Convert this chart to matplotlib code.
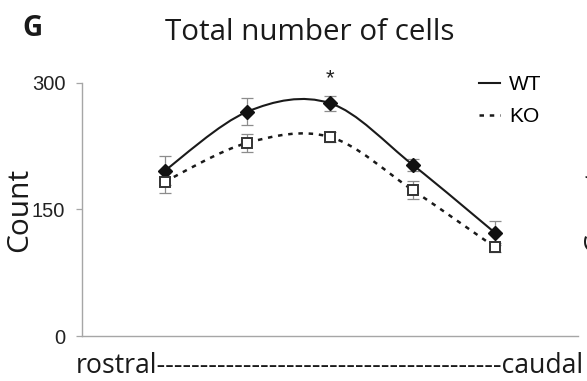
import matplotlib
matplotlib.use("Agg")
import matplotlib.pyplot as plt
from matplotlib.path import Path
from matplotlib.patches import PathPatch
from matplotlib.lines import Line2D

# Section positions along the rostro-caudal axis
positions = [1, 2, 3, 4, 5]

# Mean cell counts and error bars per genotype
wt_mean = [196, 266, 276, 203, 122]
wt_err = [17, 16, 9, 7, 14]
ko_mean = [183, 229, 236, 173, 105]
ko_err = [14, 11, 6, 11, 5]

y_ticks = [0, 150, 300]
title = "Total number of cells"
panel = "G"
x_label = "rostral" + "-" * 40 + "caudal"
y_label = "Count"
significant = [3]

HUMANIST = ["Open Sans", "DejaVu Sans"]
ARIAL = ["Liberation Sans", "DejaVu Sans"]


def smooth_path(xs, ys):
    """Cubic Bezier path through the points (Excel-style smoothed line)."""
    n = len(xs)
    verts = [(xs[0], ys[0])]
    codes = [Path.MOVETO]
    for i in range(n - 1):
        x0, y0 = xs[max(i - 1, 0)], ys[max(i - 1, 0)]
        x1, y1 = xs[i], ys[i]
        x2, y2 = xs[i + 1], ys[i + 1]
        x3, y3 = xs[min(i + 2, n - 1)], ys[min(i + 2, n - 1)]
        c1 = (x1 + (x2 - x0) / 6.0, y1 + (y2 - y0) / 6.0)
        c2 = (x2 - (x3 - x1) / 6.0, y2 - (y3 - y1) / 6.0)
        verts += [c1, c2, (x2, y2)]
        codes += [Path.CURVE4] * 3
    return Path(verts, codes)


fig = plt.figure(figsize=(5.87, 3.81), dpi=100)
ax = fig.add_axes([0.1397, 0.1181, 0.845, 0.6641])

ax.set_xlim(0, 6)
ax.set_ylim(0, 300)

# Lines
wt_style = dict(color="#1a1a1a", lw=1.5)
ko_style = dict(color="#1a1a1a", lw=1.8, linestyle=(0, (1.8, 2.3)))
ax.add_patch(PathPatch(smooth_path(positions, wt_mean), fill=False,
                       capstyle="round", zorder=2, **wt_style))
ax.add_patch(PathPatch(smooth_path(positions, ko_mean), fill=False,
                       capstyle="butt", zorder=2, **ko_style))

# Error bars
ax.errorbar(positions, wt_mean, yerr=wt_err, fmt="none", ecolor="#8c8c8c",
            elinewidth=0.9, capsize=4, capthick=0.9, zorder=1)
ax.errorbar(positions, ko_mean, yerr=ko_err, fmt="none", ecolor="#8c8c8c",
            elinewidth=0.9, capsize=4, capthick=0.9, zorder=1)

# Markers
ax.plot(positions, wt_mean, linestyle="none", marker="D", markersize=7.5,
        color="#111111", zorder=4)
ax.plot(positions, ko_mean, linestyle="none", marker="s", markersize=6.8,
        markerfacecolor="white", markeredgecolor="#333333",
        markeredgewidth=1.4, zorder=4)

# Significance marks
for p in significant:
    i = positions.index(p)
    ax.text(p, wt_mean[i] + 17, "*", ha="center", va="bottom",
            fontsize=16, family=ARIAL, color="#222222")

# Axes styling
for side in ("top", "right"):
    ax.spines[side].set_visible(False)
for side in ("left", "bottom"):
    ax.spines[side].set_color("#a6a6a6")
    ax.spines[side].set_linewidth(1.0)
ax.set_xticks([])
ax.set_yticks(y_ticks)
ax.set_yticklabels([str(t) for t in y_ticks], family=ARIAL, fontsize=14.5,
                   color="#222222")
ax.tick_params(axis="y", length=4, width=0.9, color="#a6a6a6", pad=8)

# Legend
handles = [Line2D([], [], **wt_style), Line2D([], [], **ko_style)]
ax.legend(handles, ["WT", "KO"], loc="upper left",
          bbox_to_anchor=(0.779, 1.072), frameon=False, handlelength=1.0,
          handletextpad=0.45, labelspacing=0.62, borderpad=0,
          prop={"family": ARIAL, "size": 15})

# Texts
fig.text(0.527, 0.916, title, ha="center", va="center", family=HUMANIST,
         fontsize=21.3, color="#1a1a1a")
fig.text(0.055, 0.924, panel, ha="center", va="center", family=HUMANIST,
         fontsize=20, fontweight="bold", color="#1a1a1a")
fig.text(0.034, 0.449, y_label, ha="center", va="center", rotation=90,
         family=HUMANIST, fontsize=21.5, color="#1a1a1a")
fig.text(1.016, 0.449, y_label, ha="center", va="center", rotation=90,
         family=HUMANIST, fontsize=21.5, color="#1a1a1a")
fig.text(0.562, 0.039, x_label, ha="center", va="center", family=HUMANIST,
         fontsize=19.2, color="#1a1a1a")

fig.savefig("out.png", dpi=100)
